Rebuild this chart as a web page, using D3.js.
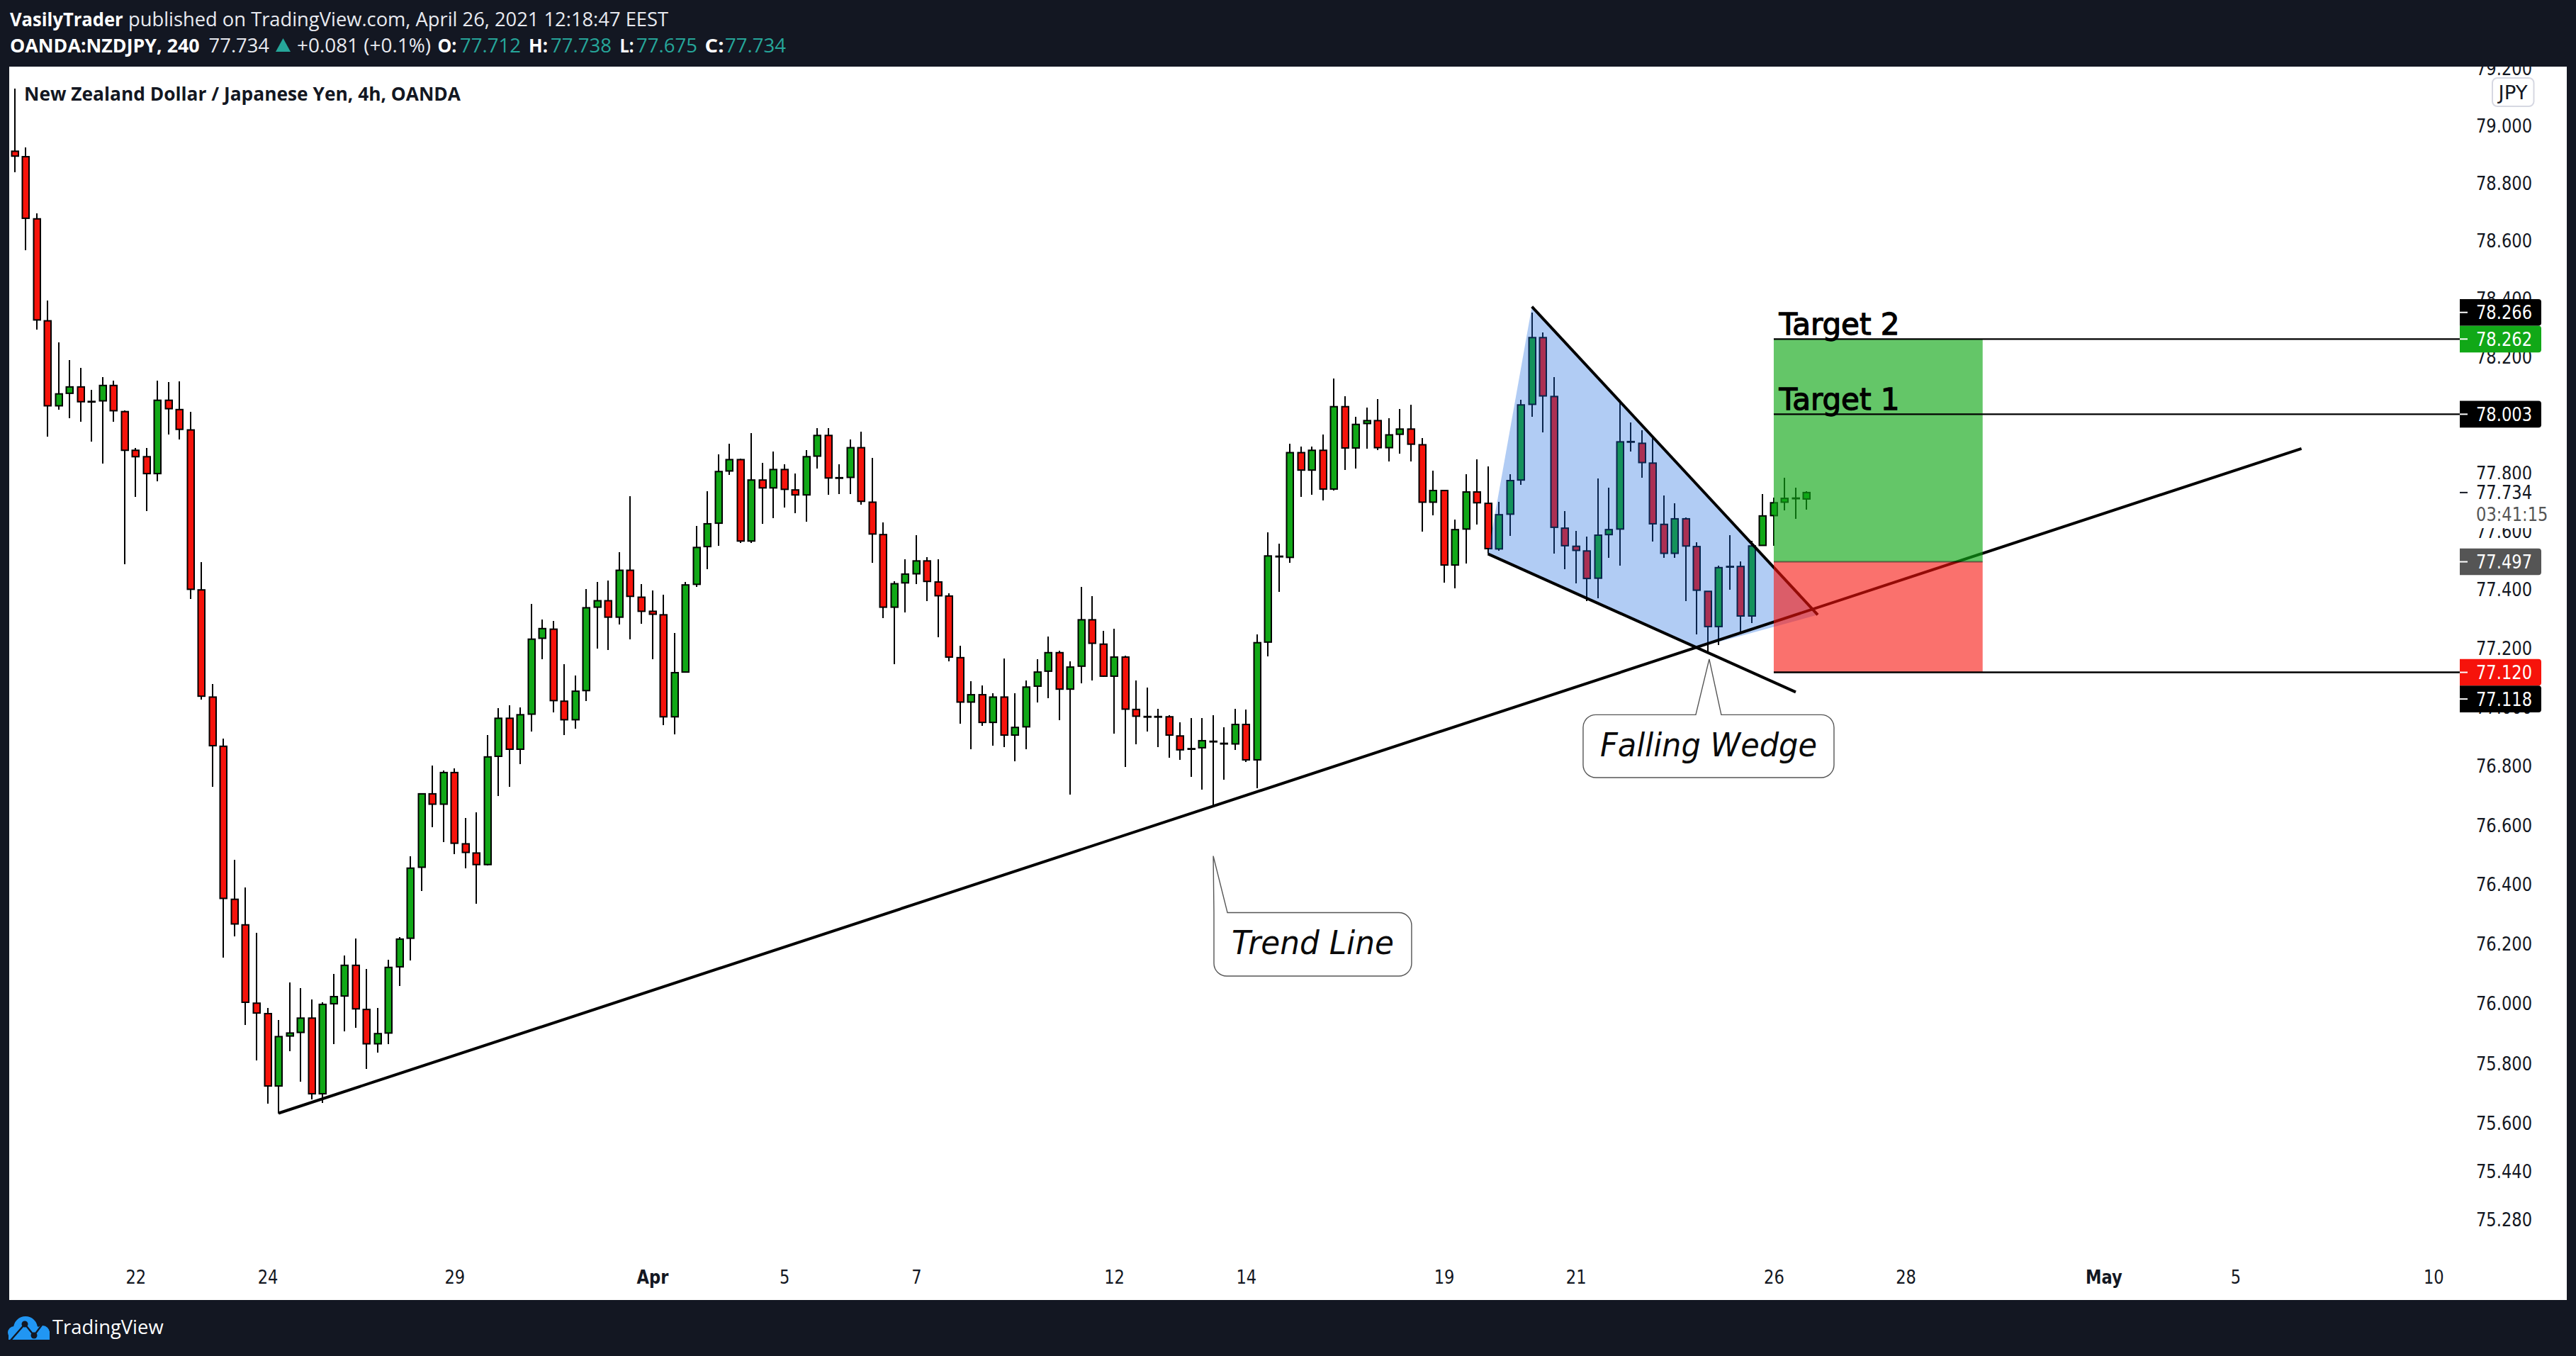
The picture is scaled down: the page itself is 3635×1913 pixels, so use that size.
<!DOCTYPE html>
<html>
<head>
<meta charset="utf-8">
<script src="https://cdn.jsdelivr.net/npm/d3@7"></script>
<style>
  html, body { margin: 0; padding: 0; background: #131722; overflow: hidden; }
  svg { display: block; }
  text { font-family: "DejaVu Sans", sans-serif; }
</style>
</head>
<body>
<script>
// 4h candles, oldest first
var open = [
  78.913,78.894,78.678,78.325,78.032,78.075,78.097,78.047,78.049,78.102,
  78.012,77.879,77.857,77.799,78.051,78.019,77.949,77.401,77.036,76.869,
  76.352,76.266,76.003,75.968,75.726,75.893,75.905,75.953,75.700,76.001,
  76.027,76.130,75.982,75.867,75.903,76.125,76.221,76.460,76.708,76.673,
  76.780,76.539,76.508,76.469,76.835,76.964,76.859,76.978,77.236,77.267,
  77.022,76.959,77.058,77.342,77.364,77.308,77.468,77.376,77.328,77.316,
  76.969,77.121,77.420,77.549,77.629,77.808,77.847,77.568,77.777,77.750,
  77.813,77.743,77.726,77.859,77.930,77.785,77.786,77.888,77.701,77.590,
  77.342,77.425,77.456,77.500,77.428,77.380,77.170,77.019,77.044,76.950,
  77.036,76.907,76.935,77.073,77.124,77.187,77.063,77.141,77.299,77.216,
  77.107,77.172,76.994,76.970,76.970,76.969,76.904,76.861,76.864,76.886,
  76.879,76.877,76.943,76.823,77.223,77.516,77.512,77.871,77.811,77.879,
  77.746,78.029,77.887,77.971,77.981,77.888,77.934,77.952,77.898,77.701,
  77.741,77.486,77.609,77.736,77.697,77.541,77.660,77.777,78.037,78.267,
  78.064,77.612,77.550,77.534,77.441,77.590,77.609,77.909,77.903,77.835,
  77.625,77.526,77.644,77.549,77.396,77.276,77.481,77.481,77.312,77.553,
  77.655,77.701,77.715,77.712
];
var high = [
  79.131,78.925,78.697,78.396,78.250,78.189,78.163,78.087,78.131,78.119,
  78.016,77.886,77.886,78.119,78.114,78.116,78.010,77.495,77.081,76.895,
  76.486,76.391,76.238,75.987,75.946,76.073,76.054,76.015,76.006,76.101,
  76.164,76.221,76.118,75.987,76.149,76.226,76.498,76.711,76.804,76.787,
  76.794,76.627,76.646,76.907,76.998,77.007,77.000,77.354,77.299,77.296,
  77.148,77.109,77.405,77.427,77.432,77.529,77.721,77.422,77.399,77.384,
  77.255,77.427,77.619,77.739,77.864,77.902,77.850,77.939,77.837,77.874,
  77.830,77.800,77.880,77.954,77.955,77.830,77.915,77.942,77.854,77.631,
  77.430,77.505,77.589,77.512,77.505,77.390,77.211,77.090,77.075,77.050,
  77.168,77.050,77.092,77.165,77.243,77.194,77.157,77.410,77.379,77.262,
  77.269,77.177,77.092,77.068,76.995,76.974,76.950,76.965,76.964,76.974,
  76.933,76.995,76.993,77.249,77.597,77.558,77.902,77.893,77.893,77.933,
  78.127,78.064,77.993,78.027,78.056,77.990,78.021,78.035,77.922,77.808,
  77.743,77.642,77.796,77.848,77.824,77.703,77.797,78.053,78.354,78.285,
  78.131,77.671,77.603,77.583,77.783,77.750,78.045,77.975,77.948,77.920,
  77.725,77.698,77.649,77.564,77.396,77.484,77.588,77.499,77.569,77.729,
  77.716,77.785,77.750,77.738
];
var low = [
  78.840,78.570,78.294,77.927,78.019,77.990,77.978,77.908,77.833,77.978,
  77.488,77.718,77.670,77.772,77.934,77.917,77.369,77.027,76.732,76.156,
  76.228,75.929,75.812,75.666,75.635,75.843,75.740,75.681,75.669,75.867,
  75.908,75.920,75.784,75.838,75.867,76.061,76.147,76.381,76.596,76.546,
  76.505,76.457,76.336,76.467,76.701,76.732,76.809,76.919,77.165,76.983,
  76.908,76.928,77.022,77.202,77.197,77.282,77.233,77.286,77.164,76.940,
  76.909,77.119,77.411,77.471,77.551,77.795,77.562,77.562,77.626,77.646,
  77.682,77.664,77.634,77.817,77.726,77.729,77.729,77.693,77.493,77.304,
  77.148,77.325,77.421,77.362,77.239,77.157,76.946,76.860,76.939,76.870,
  76.865,76.817,76.860,77.017,77.032,76.957,76.705,77.083,77.092,77.104,
  76.912,76.798,76.876,76.918,76.866,76.829,76.824,76.765,76.722,76.665,
  76.755,76.857,76.816,76.726,77.174,77.394,77.493,77.718,77.726,77.708,
  77.740,77.811,77.817,77.885,77.880,77.841,77.867,77.841,77.601,77.656,
  77.426,77.406,77.492,77.625,77.524,77.535,77.585,77.760,77.993,77.940,
  77.524,77.472,77.424,77.363,77.373,77.511,77.484,77.875,77.785,77.566,
  77.510,77.510,77.363,77.248,77.192,77.212,77.402,77.259,77.289,77.552,
  77.551,77.674,77.645,77.675
];
var close = [
  78.896,78.680,78.328,78.032,78.073,78.097,78.046,78.045,78.102,78.015,
  77.879,77.857,77.799,78.051,78.022,77.951,77.403,77.039,76.871,76.355,
  76.269,76.006,75.970,75.726,75.891,75.903,75.953,75.700,75.999,76.025,
  76.130,75.984,75.867,75.901,76.123,76.218,76.457,76.708,76.673,76.780,
  76.541,76.510,76.469,76.833,76.964,76.859,76.976,77.233,77.269,77.024,
  76.959,77.056,77.340,77.364,77.308,77.468,77.379,77.328,77.318,76.969,
  77.119,77.418,77.546,77.627,77.806,77.847,77.568,77.777,77.750,77.813,
  77.745,77.726,77.857,77.930,77.784,77.783,77.888,77.704,77.592,77.342,
  77.422,77.455,77.500,77.430,77.381,77.172,77.019,77.044,76.950,77.036,
  76.907,76.933,77.070,77.121,77.187,77.063,77.138,77.299,77.219,77.107,
  77.172,76.995,76.971,76.968,76.968,76.907,76.857,76.859,76.888,76.884,
  76.877,76.943,76.823,77.221,77.517,77.514,77.871,77.811,77.879,77.746,
  78.029,77.887,77.968,77.981,77.888,77.932,77.952,77.900,77.701,77.741,
  77.486,77.607,77.736,77.699,77.542,77.658,77.775,78.035,78.267,78.066,
  77.615,77.552,77.536,77.440,77.588,77.607,77.908,77.907,77.837,77.627,
  77.526,77.644,77.551,77.400,77.276,77.477,77.479,77.312,77.551,77.654,
  77.699,77.714,77.713,77.734
];

var priceTicks = [79.2,79,78.8,78.6,78.4,78.2,78,77.8,77.6,77.4,77.2,77,76.8,76.6,76.4,76.2,76,75.8,75.6,75.44,75.28];
var timeTickBars = [11,23,40,58,70,82,100,112,130,142,160,172,190,202,220];
var timeTickLabels = ["22","24","29","Apr","5","7","12","14","19","21","26","28","May","5","10"];

// drawings, as [candle index, price]
var trendLine = [[24,75.635],[208,77.885]];
var wedgeUpper = [[138,78.374],[164,77.316]];
var wedgeLower = [[134,77.524],[162,77.053]];
var wedgeShape = [[134,77.524],[138,78.374],[164,77.316],[153.05,77.204]];
var targetBars = [160,179];
var target2 = 78.262, target1 = 78.003, entry = 77.497, stop = 77.120;

var W = 3635, H = 1913;
var pane = {left: 13, top: 94, right: 3622, bottom: 1834};
var axisX = 3471;

var x = d3.scaleLinear().domain([0,220]).range([20.7,3433.8]);
var y = d3.scaleLog().domain([79,75.28]).range([178.1,1721]);
var pt = function(d) { return [x(d[0]), y(d[1])]; };
var line = d3.line().x(function(d) { return x(d[0]); }).y(function(d) { return y(d[1]); });

// the reference glyphs are taller than they are wide: keep the width of
// the smaller size but draw at the larger one
function tall(sel, size) {
  sel.style("font-size","22.6px").each(function() {
    var w = this.getComputedTextLength();
    d3.select(this).style("font-size",size+"px")
      .attr("textLength",w).attr("lengthAdjust","spacingAndGlyphs");
  });
  return sel;
}

var svg = d3.select("body").append("svg").attr("width", W).attr("height", H);

svg.append("defs").append("clipPath").attr("id","paneClip").append("rect")
  .attr("x",pane.left).attr("y",pane.top)
  .attr("width",pane.right-pane.left).attr("height",pane.bottom-pane.top);

svg.append("rect").attr("width",W).attr("height",H).attr("fill","#131722");
svg.append("rect").attr("x",pane.left).attr("y",pane.top)
  .attr("width",pane.right-pane.left).attr("height",pane.bottom-pane.top).attr("fill","#fff");

var plot = svg.append("g").attr("clip-path","url(#paneClip)");

// axes
var yAxis = plot.append("g").attr("transform","translate(3494,0)")
  .call(d3.axisRight(y).tickValues(priceTicks).tickSize(0).tickPadding(0).tickFormat(d3.format(".3f")));
var xAxis = plot.append("g").attr("transform","translate(0,1793)")
  .call(d3.axisBottom(x).tickValues(timeTickBars).tickSize(0).tickPadding(0)
    .tickFormat(function(d,i) { return timeTickLabels[i]; }));
[yAxis,xAxis].forEach(function(a) {
  a.select(".domain").remove();
  a.selectAll("text").attr("fill","#131722").style("font-family","DejaVu Sans");
});
xAxis.selectAll("text").filter(function() { return /[A-Z]/.test(this.textContent); }).style("font-weight","bold");
tall(yAxis.selectAll("text"),26);
tall(xAxis.selectAll("text"),26);

// candles
var candles = plot.append("g").selectAll("g").data(d3.range(open.length)).join("g");
candles.append("line")
  .attr("x1",function(i) { return Math.round(x(i)); })
  .attr("x2",function(i) { return Math.round(x(i)); })
  .attr("y1",function(i) { return y(high[i]); })
  .attr("y2",function(i) { return y(low[i]); })
  .attr("stroke","#000").attr("stroke-width",2).attr("shape-rendering","crispEdges");
candles.append("rect")
  .attr("x",function(i) { return Math.round(x(i))-4.5; })
  .attr("width",9.5)
  .attr("y",function(i) { return y(Math.max(open[i],close[i])); })
  .attr("height",function(i) { return Math.abs(y(open[i])-y(close[i])); })
  .attr("fill",function(i) { return close[i]>=open[i] ? "#11a817" : "#f6130b"; })
  .attr("stroke","#000").attr("stroke-width",2);

// falling wedge
plot.append("path").attr("d",line(wedgeShape)+"Z").attr("fill","#1a69df").attr("fill-opacity",0.34);
plot.selectAll(".wedge").data([wedgeUpper,wedgeLower,trendLine]).join("path")
  .attr("d",line).attr("fill","none").attr("stroke","#000").attr("stroke-width",4);

// target boxes sit over the lines
plot.append("rect").attr("x",x(targetBars[0])).attr("width",x(targetBars[1])-x(targetBars[0]))
  .attr("y",y(target2)).attr("height",y(entry)-y(target2)).attr("fill","#11a817").attr("fill-opacity",0.65);
plot.append("rect").attr("x",x(targetBars[0])).attr("width",x(targetBars[1])-x(targetBars[0]))
  .attr("y",y(entry)).attr("height",y(stop)-y(entry)).attr("fill","#f6130b").attr("fill-opacity",0.6);
plot.append("line").attr("x1",x(targetBars[0])).attr("x2",x(targetBars[1]))
  .attr("y1",y(entry)).attr("y2",y(entry)).attr("stroke","#000").attr("stroke-opacity",0.45).attr("stroke-width",2);
plot.selectAll(".level").data([target2,target1,stop]).join("line")
  .attr("x1",x(targetBars[0])).attr("x2",axisX)
  .attr("y1",function(d) { return y(d); }).attr("y2",function(d) { return y(d); })
  .attr("stroke","#000").attr("stroke-width",2.4);

plot.selectAll(".target").data([["Target 2",target2],["Target 1",target1]]).join("text")
  .attr("x",x(targetBars[0])+7.5).attr("y",function(d) { return y(d[1])-6; })
  .attr("fill","#000").attr("stroke","#000").attr("stroke-width",1.3)
  .attr("textLength",170).attr("lengthAdjust","spacingAndGlyphs")
  .style("font-size","42px").text(function(d) { return d[0]; });

// callouts
function callout(o) {
  var tip = pt(o.tip), a = pt(o.corner), b = pt(o.cornerEnd), r = 18;
  var tailL = tip[0]+o.tail[0], tailR = tip[0]+o.tail[1];
  var square = tailL <= a[0]+1;
  var d = "M"+(square ? a[0] : tailL)+","+a[1]+"L"+tip+"L"+tailR+","+a[1]+
    "H"+(b[0]-r)+"A"+r+","+r+" 0 0 1 "+b[0]+","+(a[1]+r)+
    "V"+(b[1]-r)+"A"+r+","+r+" 0 0 1 "+(b[0]-r)+","+b[1]+
    "H"+(a[0]+r)+"A"+r+","+r+" 0 0 1 "+a[0]+","+(b[1]-r);
  d += square ? "Z" : "V"+(a[1]+r)+"A"+r+","+r+" 0 0 1 "+(a[0]+r)+","+a[1]+"Z";
  plot.append("path").attr("d",d).attr("fill","#fff").attr("stroke","#555").attr("stroke-width",1.4);
  plot.append("text").attr("x",(a[0]+b[0])/2).attr("y",(a[1]+b[1])/2+14)
    .attr("text-anchor","middle").attr("fill","#0a0a0a")
    .attr("textLength",o.width).attr("lengthAdjust","spacingAndGlyphs")
    .style("font-size","46px").style("font-style","italic").text(o.label);
}
callout({label:"Trend Line", width:229, tip:[109.02,76.498], corner:[109.08,76.307], cornerEnd:[127.06,76.094], tail:[0,20]});
callout({label:"Falling Wedge", width:306, tip:[154.13,77.165], corner:[142.66,76.976], cornerEnd:[165.48,76.763], tail:[-19,17]});

// chart title
svg.append("text").attr("x",34).attr("y",142).attr("fill","#131722")
  .attr("textLength",616).attr("lengthAdjust","spacingAndGlyphs")
  .style("font-size","27.5px").style("font-weight",700).style("font-family","Open Sans")
  .text("New Zealand Dollar / Japanese Yen, 4h, OANDA");

// price scale labels
var lastPrice = 77.734, tagH = 37.6;
svg.append("rect").attr("x",axisX).attr("width",115).attr("y",y(lastPrice)-18.8).attr("height",69).attr("fill","#fff");
svg.append("line").attr("x1",axisX).attr("x2",axisX+11).attr("y1",y(lastPrice)).attr("y2",y(lastPrice))
  .attr("stroke","#131722").attr("stroke-width",2);
tall(svg.append("text").attr("x",3494).attr("y",y(lastPrice)).attr("dy","0.36em").attr("fill","#131722").text("77.734"),26);
tall(svg.append("text").attr("x",3494).attr("y",y(lastPrice)+31).attr("dy","0.36em").attr("fill","#555").text("03:41:15"),26);

var tagValues = [78.262,78.003,77.497,77.12,78.266,77.118];
var tagColors = ["#11a817","#000","#555","#f6130b","#000","#000"];
var tagStack = [78.262,78.003,77.497,77.12,78.262,77.12];  // which level the tag is pushed off
var tagRow = [0,0,0,0,-1,1];
var tags = svg.append("g").selectAll("g").data(d3.range(tagValues.length)).join("g")
  .attr("transform",function(i) { return "translate("+axisX+","+(y(tagStack[i])+tagRow[i]*tagH)+")"; });
tags.append("path")
  .attr("d","M0,"+(-tagH/2)+"H111a4,4 0 0 1 4,4V"+(tagH/2-4)+"a4,4 0 0 1 -4,4H0Z")
  .attr("fill",function(i) { return tagColors[i]; });
tags.append("line").attr("x2",11).attr("stroke","#fff").attr("stroke-width",2);
tall(tags.append("text").attr("x",23).attr("dy","0.36em").attr("fill","#fff")
  .text(function(i) { return tagValues[i].toFixed(3); }),26);

// currency badge
svg.append("rect").attr("x",3517).attr("y",110).attr("width",58.5).attr("height",40).attr("rx",7)
  .attr("fill","#fff").attr("stroke","#d6d8e2").attr("stroke-width",2);
svg.append("text").attr("x",3546).attr("y",130).attr("dy","0.36em").attr("text-anchor","middle")
  .attr("fill","#131722").style("font-size","27px").attr("textLength",41).attr("lengthAdjust","spacingAndGlyphs").text("JPY");

// header
var head = svg.append("g").style("font-size","27.5px");
function headText(px, py, len, txt, fill, weight) {
  head.append("text").attr("x",px).attr("y",py).attr("fill",fill)
    .attr("textLength",len).attr("lengthAdjust","spacingAndGlyphs")
    .style("font-family","Open Sans").style("font-weight",weight||400).text(txt);
}
headText(14,37,159.7,"VasilyTrader","#fff",700);
headText(181,37,762,"published on TradingView.com, April 26, 2021 12:18:47 EEST","#e8eaf0");
headText(14,74,267.6,"OANDA:NZDJPY, 240","#fff",700);
headText(294.6,74,85.4,"77.734","#e8eaf0");
head.append("path").attr("d","M399.5,54L410,73H389Z").attr("fill","#26a69a");
headText(419,74,189,"+0.081 (+0.1%)","#e8eaf0");
var ohlcNames = ["O:","H:","L:","C:"];
var ohlcValues = ["77.712","77.738","77.675","77.734"];
[617.5,746,874.5,994.6].forEach(function(px,i) { headText(px,74,i==2 ? 20 : 27,ohlcNames[i],"#fff",700); });
[649,777,898,1023].forEach(function(px,i) { headText(px,74,86,ohlcValues[i],"#26a69a"); });

// footer logo
var logo = svg.append("g");
logo.append("clipPath").attr("id","cloudClip").append("rect").attr("x",10).attr("y",1850).attr("width",65).attr("height",40);
var cloud = logo.append("g").attr("clip-path","url(#cloudClip)");
[[36,1874,17],[20,1880,9],[60,1880,10],[50,1882,11]].forEach(function(c) {
  cloud.append("circle").attr("cx",c[0]).attr("cy",c[1]).attr("r",c[2]).attr("fill","#2196f3");
});
cloud.append("rect").attr("x",12).attr("y",1878).attr("width",58).attr("height",12).attr("fill","#2196f3");
cloud.append("path").attr("d","M14,1892L35,1868L48,1884L63,1864").attr("fill","none").attr("stroke","#131722").attr("stroke-width",2.4);
cloud.append("circle").attr("cx",35).attr("cy",1868).attr("r",4.5).attr("fill","#131722");
cloud.append("circle").attr("cx",48).attr("cy",1884).attr("r",4.5).attr("fill","#131722");
svg.append("text").attr("x",74).attr("y",1882).attr("fill","#fff")
  .attr("textLength",156.6).attr("lengthAdjust","spacingAndGlyphs")
  .style("font-size","28px").style("font-family","Open Sans").text("TradingView");
</script>
</body>
</html>
